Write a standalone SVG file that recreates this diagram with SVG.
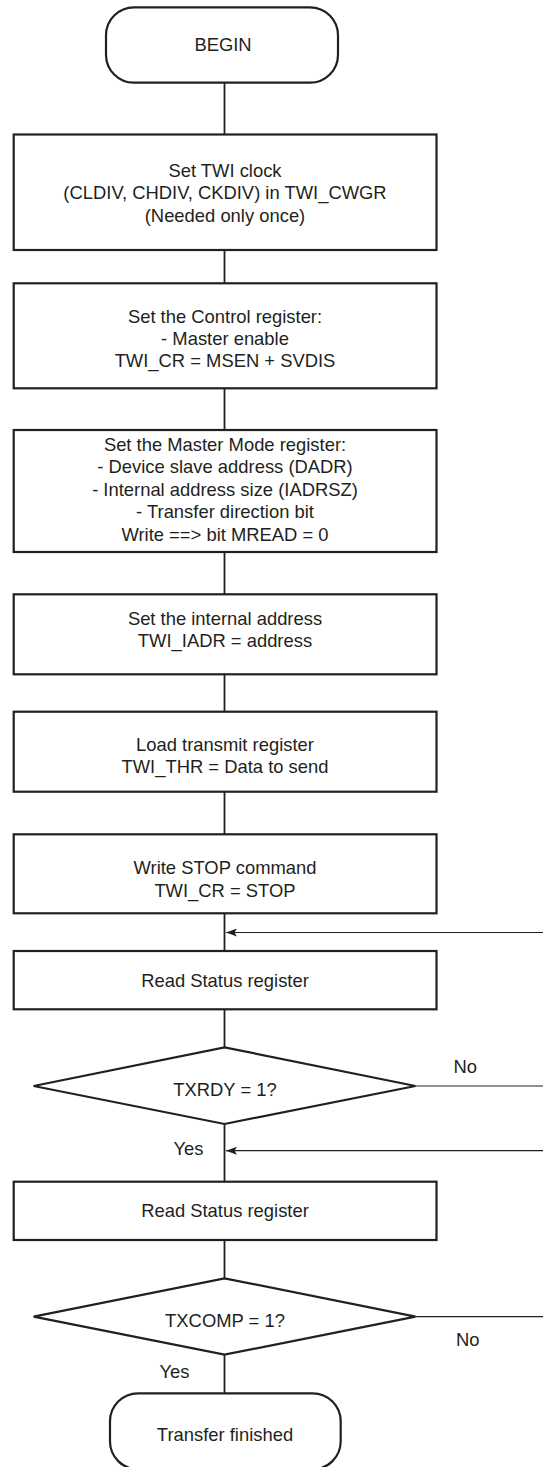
<svg xmlns="http://www.w3.org/2000/svg" width="543" height="1467" viewBox="0 0 543 1467">
<style>
  .box{fill:#ffffff;stroke:#231f20;stroke-width:2.2}
  .t{font-family:"Liberation Sans",Arial,sans-serif;font-size:18.4px;fill:#231f20;text-anchor:middle}
  .lbl{font-family:"Liberation Sans",Arial,sans-serif;font-size:18.4px;fill:#231f20}
  .c{fill:none;stroke:#231f20;stroke-width:1.8}
  .r{fill:none;stroke:#231f20;stroke-width:1.2}
</style>
<defs>
  <marker id="ah" markerUnits="userSpaceOnUse" markerWidth="12" markerHeight="8" refX="11" refY="4" orient="auto">
    <path d="M0,0 L11,4 L0,8 L2.5,4 Z" fill="#231f20"/>
  </marker>
</defs>
<rect width="543" height="1467" fill="#ffffff"/>

<g id="connectors">
  <line class="c" x1="224.5" y1="82.7" x2="224.5" y2="134.5"/>
  <line class="c" x1="224.5" y1="250" x2="224.5" y2="283.3"/>
  <line class="c" x1="224.5" y1="388.3" x2="224.5" y2="430"/>
  <line class="c" x1="224.5" y1="552" x2="224.5" y2="594.3"/>
  <line class="c" x1="224.5" y1="674.3" x2="224.5" y2="711.7"/>
  <line class="c" x1="224.5" y1="791.7" x2="224.5" y2="834.3"/>
  <line class="c" x1="224.5" y1="913.3" x2="224.5" y2="951"/>
  <line class="c" x1="224.5" y1="1009.3" x2="224.5" y2="1047.3"/>
  <line class="c" x1="224.5" y1="1124" x2="224.5" y2="1181.7"/>
  <line class="c" x1="224.5" y1="1240" x2="224.5" y2="1278.3"/>
  <line class="c" x1="224.5" y1="1354.7" x2="224.5" y2="1393.3"/>
  <line class="r" x1="543" y1="932.5" x2="226" y2="932.5" marker-end="url(#ah)"/>
  <line class="r" x1="415.5" y1="1086" x2="543" y2="1086"/>
  <line class="r" x1="543" y1="1150.7" x2="226" y2="1150.7" marker-end="url(#ah)"/>
  <line class="r" x1="415.5" y1="1316.7" x2="543" y2="1316.7"/>
  <text class="lbl" x="453.5" y="1073">No</text>
  <text class="lbl" x="203.5" y="1155" text-anchor="end">Yes</text>
  <text class="lbl" x="456" y="1346">No</text>
  <text class="lbl" x="189.5" y="1378" text-anchor="end">Yes</text>
</g>

<g id="begin">
  <rect class="box" x="106" y="7.3" width="232" height="75.4" rx="28" ry="28"/>
  <text class="t" x="223" y="50.5">BEGIN</text>
</g>

<g id="set-clock">
  <rect class="box" x="13.7" y="134.5" width="422.8" height="115.5"/>
  <text class="t" x="225" y="176.7">Set TWI clock</text>
  <text class="t" x="225" y="199.3">(CLDIV, CHDIV, CKDIV) in TWI_CWGR</text>
  <text class="t" x="225" y="221.7">(Needed only once)</text>
</g>

<g id="set-control">
  <rect class="box" x="13.7" y="283.3" width="422.8" height="105"/>
  <text class="t" x="225" y="322.7">Set the Control register:</text>
  <text class="t" x="225" y="345">- Master enable</text>
  <text class="t" x="225" y="367.3">TWI_CR = MSEN + SVDIS</text>
</g>

<g id="set-master-mode">
  <rect class="box" x="13.7" y="430" width="422.8" height="122"/>
  <text class="t" x="225" y="450.7">Set the Master Mode register:</text>
  <text class="t" x="225" y="473.3">- Device slave address (DADR)</text>
  <text class="t" x="225" y="496">- Internal address size (IADRSZ)</text>
  <text class="t" x="225" y="518.3">- Transfer direction bit</text>
  <text class="t" x="225" y="540.5">Write ==&gt; bit MREAD = 0</text>
</g>

<g id="set-iadr">
  <rect class="box" x="13.7" y="594.3" width="422.8" height="80"/>
  <text class="t" x="225" y="625">Set the internal address</text>
  <text class="t" x="225" y="646.7">TWI_IADR = address</text>
</g>

<g id="load-thr">
  <rect class="box" x="13.7" y="711.7" width="422.8" height="80"/>
  <text class="t" x="225" y="751">Load transmit register</text>
  <text class="t" x="225" y="772.7">TWI_THR = Data to send</text>
</g>

<g id="write-stop">
  <rect class="box" x="13.7" y="834.3" width="422.8" height="79"/>
  <text class="t" x="225" y="874.3">Write STOP command</text>
  <text class="t" x="225" y="896.7">TWI_CR = STOP</text>
</g>

<g id="read-status-1">
  <rect class="box" x="13.7" y="951" width="422.8" height="58.3"/>
  <text class="t" x="225" y="986.5">Read Status register</text>
</g>

<g id="txrdy">
  <polygon class="box" points="224.5,1047.3 415.5,1086 224.5,1124 33.6,1086"/>
  <text class="t" x="225" y="1096">TXRDY = 1?</text>
</g>

<g id="read-status-2">
  <rect class="box" x="13.7" y="1181.7" width="422.8" height="58.3"/>
  <text class="t" x="225" y="1217">Read Status register</text>
</g>

<g id="txcomp">
  <polygon class="box" points="224.5,1278.3 415.5,1316.7 224.5,1354.7 33.6,1316.7"/>
  <text class="t" x="225" y="1326.7">TXCOMP = 1?</text>
</g>

<g id="finished">
  <rect class="box" x="110" y="1393.3" width="230.7" height="76" rx="28" ry="28"/>
  <text class="t" x="225" y="1440.5">Transfer finished</text>
</g>
</svg>
